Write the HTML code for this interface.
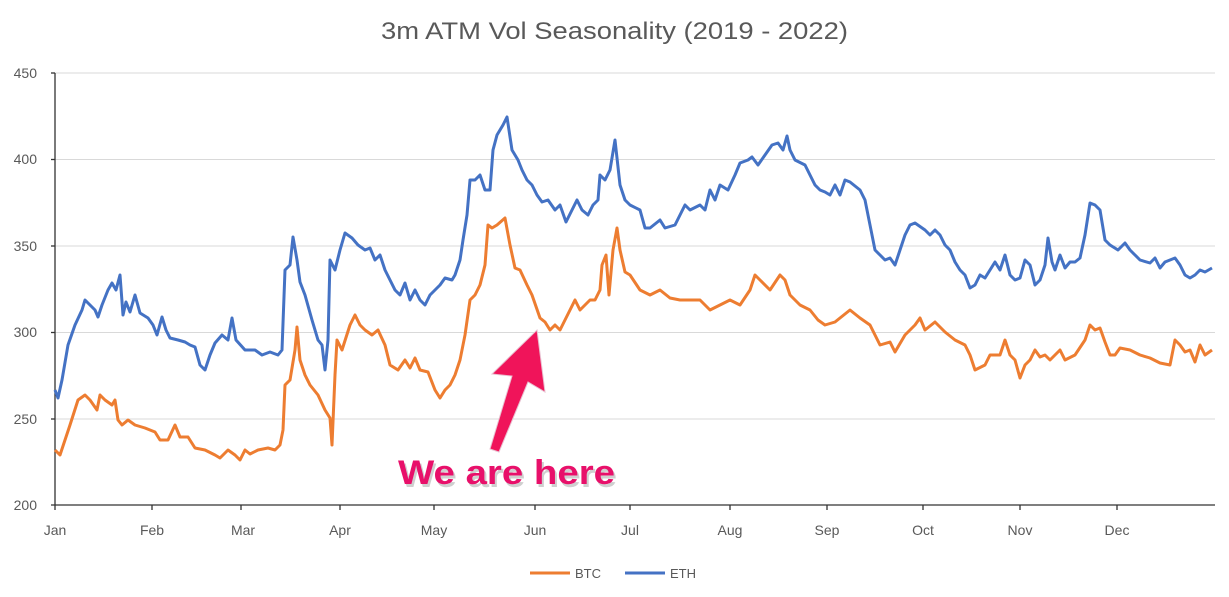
<!DOCTYPE html>
<html><head><style>
body{margin:0;background:#fff;}
svg{display:block;font-family:"Liberation Sans","DejaVu Sans",sans-serif;}
</style></head><body>
<svg width="1229" height="597" viewBox="0 0 1229 597">
<rect width="1229" height="597" fill="#fff"/>
<text x="381" y="39" font-size="24" fill="#595959" textLength="467" lengthAdjust="spacingAndGlyphs">3m ATM Vol Seasonality (2019 - 2022)</text>
<g stroke="#d9d9d9" stroke-width="1">
<line x1="55" y1="73" x2="1215" y2="73"/><line x1="55" y1="159.5" x2="1215" y2="159.5"/>
<line x1="55" y1="246" x2="1215" y2="246"/><line x1="55" y1="332.5" x2="1215" y2="332.5"/>
<line x1="55" y1="419" x2="1215" y2="419"/>
</g>
<g stroke="#333" stroke-width="1.3">
<line x1="55" y1="73" x2="55" y2="505"/><line x1="51" y1="505" x2="1215" y2="505"/>
<line x1="51" y1="73" x2="55" y2="73"/><line x1="51" y1="159.5" x2="55" y2="159.5"/><line x1="51" y1="246" x2="55" y2="246"/><line x1="51" y1="332.5" x2="55" y2="332.5"/><line x1="51" y1="419" x2="55" y2="419"/>
<line x1="55" y1="505" x2="55" y2="510"/><line x1="152" y1="505" x2="152" y2="510"/><line x1="241" y1="505" x2="241" y2="510"/><line x1="340" y1="505" x2="340" y2="510"/><line x1="434" y1="505" x2="434" y2="510"/><line x1="535" y1="505" x2="535" y2="510"/><line x1="630" y1="505" x2="630" y2="510"/><line x1="730" y1="505" x2="730" y2="510"/><line x1="827" y1="505" x2="827" y2="510"/><line x1="923" y1="505" x2="923" y2="510"/><line x1="1020" y1="505" x2="1020" y2="510"/><line x1="1117" y1="505" x2="1117" y2="510"/>
</g>
<g font-size="14" fill="#595959" text-anchor="end">
<text x="37" y="78">450</text><text x="37" y="164">400</text><text x="37" y="251">350</text><text x="37" y="337">300</text><text x="37" y="424">250</text><text x="37" y="510">200</text>
</g>
<g font-size="14" fill="#595959" text-anchor="middle">
<text x="55" y="535">Jan</text><text x="152" y="535">Feb</text><text x="243" y="535">Mar</text><text x="340" y="535">Apr</text><text x="434" y="535">May</text><text x="535" y="535">Jun</text><text x="630" y="535">Jul</text><text x="730" y="535">Aug</text><text x="827" y="535">Sep</text><text x="923" y="535">Oct</text><text x="1020" y="535">Nov</text><text x="1117" y="535">Dec</text>
</g>
<polyline fill="none" stroke="#ed7d31" stroke-width="3" stroke-linejoin="round" points="55,450 60,455 65,440 70,425 78,400 85,395 90,400 97,410 100,395 105,400 112,405 115,400 118,420 122,425 128,420 135,425 145,428 150,430 155,432 160,440 168,440 175,425 180,437 188,437 195,448 205,450 215,455 220,458 228,450 235,455 240,460 245,450 250,454 258,450 268,448 275,450 280,445 283,430 285,385 290,380 295,350 297,327 300,360 305,375 310,385 318,395 325,410 330,418 332,445 335,375 337,340 342,350 350,325 355,315 360,325 365,330 372,335 378,330 385,345 390,365 398,370 405,360 410,368 415,358 420,370 428,372 435,390 440,398 445,390 450,385 455,375 460,360 465,335 470,300 475,295 480,285 485,265 488,225 492,228 497,225 505,218 510,245 515,268 520,270 527,285 532,295 540,318 545,322 550,330 555,325 560,330 565,320 570,310 575,300 580,310 590,300 595,300 600,290 602,265 606,255 609,295 613,250 617,228 620,250 625,272 630,275 640,290 650,295 660,290 670,298 680,300 690,300 700,300 710,310 720,305 730,300 740,305 750,290 755,275 760,280 770,290 780,275 785,280 790,295 800,305 810,310 818,320 825,325 835,322 850,310 860,318 870,325 880,345 890,342 895,352 905,335 915,325 920,318 925,330 935,322 945,332 955,340 965,345 970,355 975,370 985,365 990,355 1000,355 1005,340 1010,355 1015,360 1020,378 1025,365 1030,360 1035,350 1040,357 1045,355 1050,360 1060,350 1065,360 1075,355 1085,340 1090,325 1095,330 1100,328 1105,342 1110,355 1115,355 1120,348 1130,350 1140,355 1150,358 1160,363 1170,365 1175,340 1180,345 1185,352 1190,350 1195,362 1200,345 1205,355 1212,350"/>
<polyline fill="none" stroke="#4472c4" stroke-width="3" stroke-linejoin="round" points="55,390 58,398 62,380 68,345 75,325 82,310 85,300 90,305 95,310 98,317 102,305 108,290 112,283 116,290 120,275 123,315 126,302 130,312 135,295 140,313 148,318 153,325 157,335 162,317 166,330 170,338 178,340 185,342 190,345 195,347 200,365 205,370 210,355 215,343 222,335 228,340 232,318 236,340 245,350 255,350 262,355 270,352 278,355 282,350 285,270 290,265 293,237 297,260 300,282 305,295 312,320 318,340 322,345 325,370 328,340 330,260 335,270 340,250 345,233 352,238 358,245 365,250 370,248 375,260 380,255 385,270 390,280 395,290 400,295 405,283 410,300 415,290 420,300 425,305 430,295 435,290 440,285 445,278 452,280 455,275 460,260 463,240 467,215 470,180 475,180 480,175 485,190 490,190 493,150 497,135 503,125 507,117 512,150 518,160 522,170 527,180 532,185 537,195 542,202 548,200 555,210 560,205 566,222 572,210 577,200 582,210 588,215 593,205 598,200 600,175 605,180 610,170 615,140 620,185 625,200 630,205 640,210 645,228 650,228 660,220 665,228 675,225 680,215 685,205 690,210 700,205 705,210 710,190 715,200 720,185 728,190 735,175 740,163 748,160 752,157 758,165 765,155 772,145 778,143 783,150 787,136 790,150 795,160 805,165 810,175 815,185 820,190 825,192 830,195 835,185 840,195 845,180 850,182 860,190 865,200 870,225 875,250 880,255 885,260 890,258 895,265 900,250 905,235 910,225 915,223 925,230 930,235 935,230 940,235 945,245 950,250 955,262 960,270 965,275 970,288 975,285 980,275 985,278 990,270 995,262 1000,270 1005,255 1010,275 1015,280 1020,278 1025,260 1030,265 1035,285 1040,280 1045,265 1048,238 1052,262 1055,270 1060,255 1065,268 1070,262 1075,262 1080,258 1085,235 1090,203 1095,205 1100,210 1105,240 1110,245 1118,250 1125,243 1130,250 1135,255 1140,260 1150,263 1155,258 1160,268 1165,262 1170,260 1175,258 1180,265 1185,275 1190,278 1195,275 1200,270 1205,272 1212,268"/>
<polygon points="537,330 545,392 528,382 499,452 490,449 512,376 492,374" fill="#f0145a" stroke="#e8c0d0" stroke-width="1"/>
<text x="400" y="487" font-size="34" font-weight="bold" fill="#b0b0b0" opacity="0.6" textLength="217" lengthAdjust="spacingAndGlyphs">We are here</text>
<text x="398" y="484" font-size="34" font-weight="bold" fill="#e8106a" textLength="217" lengthAdjust="spacingAndGlyphs">We are here</text>
<line x1="530" y1="573" x2="570" y2="573" stroke="#ed7d31" stroke-width="3"/>
<text x="575" y="578" font-size="13" fill="#595959">BTC</text>
<line x1="625" y1="573" x2="665" y2="573" stroke="#4472c4" stroke-width="3"/>
<text x="670" y="578" font-size="13" fill="#595959">ETH</text>
</svg>
</body></html>
